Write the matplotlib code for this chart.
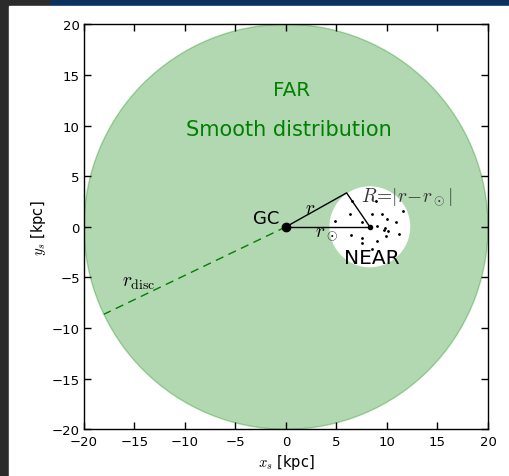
import numpy as np
import matplotlib
matplotlib.use("Agg")
import matplotlib.pyplot as plt
from matplotlib.patches import Circle, Rectangle

plt.rcParams["mathtext.fontset"] = "cm"

# Geometry of the sketch (kpc)
r_disc = 20.0
sun_x, sun_y = 8.3, 0.0
near_radius = 4.0
star_x, star_y = 6.0, 3.35
disc_angle_deg = 205.6

# Local stars inside the NEAR sphere
near_x = [8.89, 6.55, 11.59, 6.38, 8.53, 9.55, 4.90, 7.54, 10.01, 10.93,
          8.99, 9.85, 10.05, 9.68, 11.17, 6.48, 7.54, 9.95, 8.99, 7.54, 8.53]
near_y = [2.52, 2.52, 1.53, 1.27, 1.27, 1.27, 0.61, 0.51, 0.77, 0.45,
          0.05, -0.15, -0.44, -0.28, -0.71, -0.81, -1.13, -0.94, -1.43, -1.63, -2.19]

ticks = [-20, -15, -10, -5, 0, 5, 10, 15, 20]

W, H = 510, 477
fig = plt.figure(figsize=(W / 100, H / 100), dpi=100)
fig.patch.set_facecolor("#2b2b2b")
# page background pieces, drawn beneath the axes
fig.patches.append(Rectangle((51 / W, 1 - 7 / H), 1 - 51 / W, 7 / H,
                             transform=fig.transFigure, color="#0c315f", zorder=-5))
fig.patches.append(Rectangle((9 / W, 0), 1 - 9 / W, 1 - 7 / H,
                             transform=fig.transFigure, color="white", zorder=-5))

ax = fig.add_axes([84 / W, 1 - 430.3 / H, 404 / W, 405 / H])
ax.set_xlim(-20, 20)
ax.set_ylim(-20, 20)
ax.set_xticks(ticks)
ax.set_yticks(ticks)
ax.tick_params(direction="in", top=True, right=True, length=5, width=1,
               labelsize=9.5, pad=3, colors="black")
ax.tick_params(axis="x", pad=4)
for s in ax.spines.values():
    s.set_linewidth(1)

# Galactic disc and the local sphere
ax.add_patch(Circle((0, 0), r_disc, facecolor="green", edgecolor="green",
                    alpha=0.3, lw=1, zorder=1))
ax.add_patch(Circle((sun_x, sun_y), near_radius, facecolor="white",
                    edgecolor="none", zorder=2))

# Disc radius
a = np.deg2rad(disc_angle_deg)
ax.plot([0, r_disc * np.cos(a)], [0, r_disc * np.sin(a)], ls="--",
        color="green", lw=1, dashes=(6, 4), zorder=3)

# Stars in the local sphere
ax.plot(near_x, near_y, ".", color="black", ms=2.0, zorder=4)

# Triangle GC - star - Sun
ax.plot([0, star_x, sun_x], [0, star_y, sun_y], color="black", lw=1, zorder=5)
ax.plot([0, sun_x], [0, sun_y], color="black", lw=1, zorder=5)
ax.plot([0], [0], "o", color="black", ms=6, zorder=6)
ax.plot([sun_x], [sun_y], "o", color="black", ms=3, zorder=6)

# Labels
ax.text(0.6, 13.6, "FAR", color="green", fontsize=14.3, ha="center", va="center")
ax.text(0.3, 9.65, "Smooth distribution", color="green", fontsize=15,
        ha="center", va="center")
ax.text(-0.7, 0.85, "GC", fontsize=13, ha="right", va="center")
ax.text(8.45, -3.05, "NEAR", fontsize=14.5, ha="center", va="center")
ax.text(2.4, 1.95, r"$r$", fontsize=14, ha="center", va="center")
ax.text(4.0, -0.6, r"$r_\odot$", fontsize=14, ha="center", va="center")
ax.text(7.4, 3.0, r"$R\!=\!|r\!-\!r_\odot|$", fontsize=14, ha="left",
        va="center", color="#333333")
ax.text(-14.6, -5.4, r"$r_{\rm disc}$", fontsize=14, ha="center", va="center")

ax.set_xlabel(r"$x_s$ [kpc]", fontsize=10.5, labelpad=3)
ax.set_ylabel(r"$y_s$ [kpc]", fontsize=10.5, labelpad=3)

fig.savefig("out.png", dpi=100, facecolor=fig.get_facecolor())
